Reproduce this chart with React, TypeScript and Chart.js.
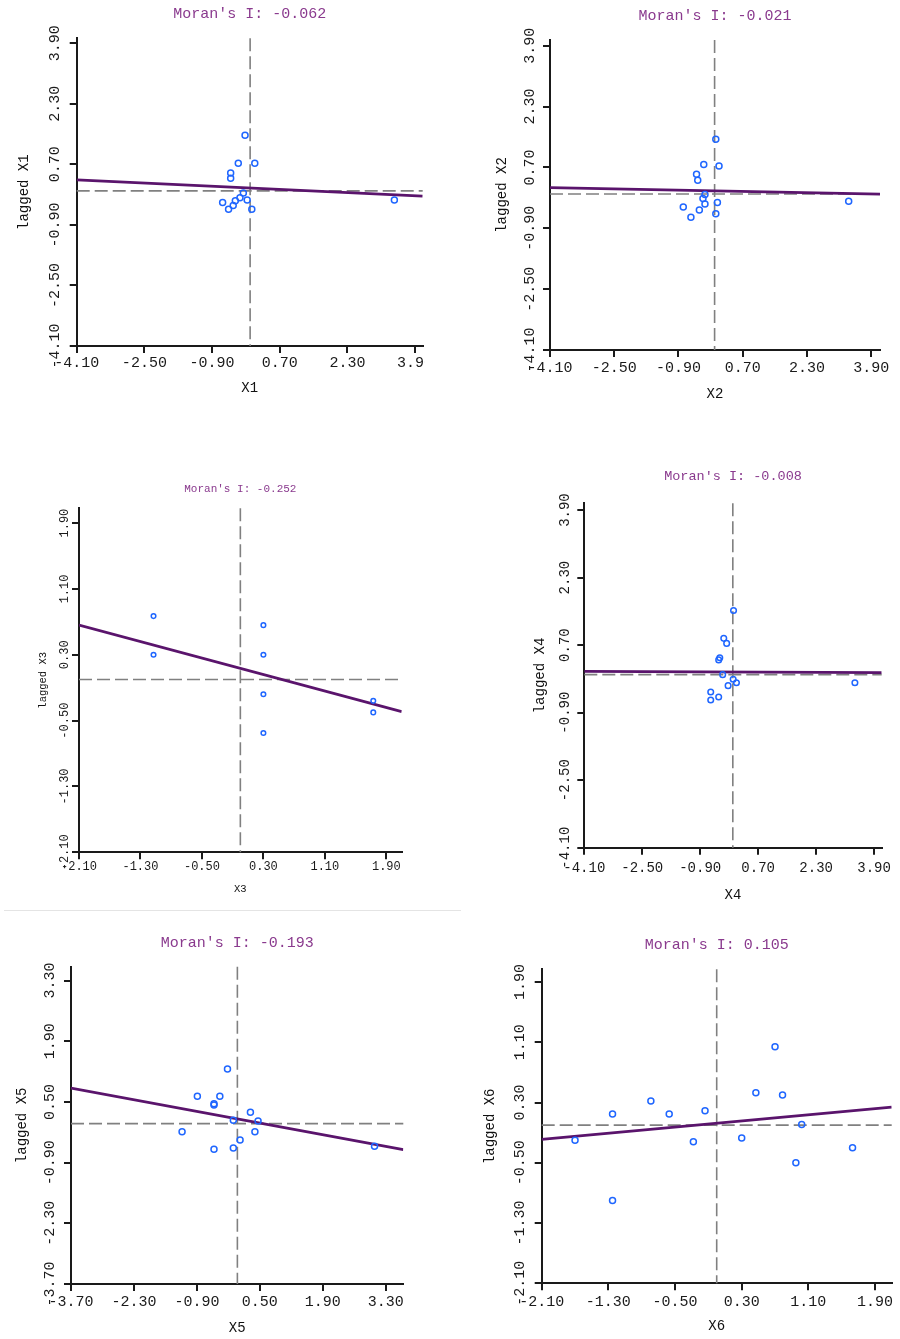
import React, { useEffect, useRef } from "react";
import { Chart, registerables } from "chart.js";

Chart.register(...registerables);

// ---------- data ----------
const moranI = [-0.062, -0.021, -0.252, -0.008, -0.193, 0.105];
const varNames = ["X1", "X2", "X3", "X4", "X5", "X6"];

const x1Values = [-0.12, -0.28, 0.11, -0.46, -0.46, -0.16, -0.24, -0.07, -0.35, -0.65, -0.4, -0.51, 0.04, 3.41];
const x1Lagged = [1.47, 0.73, 0.73, 0.47, 0.33, -0.06, -0.18, -0.24, -0.26, -0.31, -0.39, -0.49, -0.49, -0.24];
const x1FitEnds = [0.29, -0.14];
const x1XRange = [-4.1, 4.08];
const x1YRange = [-4.1, 4.03];

const x2Values = [0.03, -0.27, 0.11, -0.45, -0.42, -0.24, -0.29, 0.07, -0.24, -0.78, -0.38, -0.59, 0.03, 3.34];
const x2Lagged = [1.44, 0.78, 0.74, 0.52, 0.36, -0.01, -0.12, -0.22, -0.26, -0.34, -0.42, -0.61, -0.52, -0.19];
const x2FitEnds = [0.17, 0.0];
const x2XRange = [-4.1, 4.12];
const x2YRange = [-4.1, 4.05];

const x3Values = [-1.13, -1.13, 0.3, 0.3, 0.3, 0.3, 1.73, 1.73];
const x3Lagged = [0.77, 0.3, 0.66, 0.3, -0.18, -0.65, -0.26, -0.4];
const x3FitEnds = [0.66, -0.39];
const x3XRange = [-2.1, 2.1];
const x3YRange = [-2.1, 2.08];

const x4Values = [0.02, -0.25, -0.17, -0.36, -0.39, -0.28, 0.01, 0.1, -0.13, -0.61, -0.61, -0.39, 3.37];
const x4Lagged = [1.52, 0.86, 0.74, 0.4, 0.35, 0.0, -0.11, -0.19, -0.26, -0.41, -0.6, -0.53, -0.19];
const x4FitEnds = [0.08, 0.05];
const x4XRange = [-4.1, 4.11];
const x4YRange = [-4.1, 4.06];

const x5Values = [-0.22, -0.89, -0.39, -0.52, -0.52, 0.29, -0.09, 0.46, -1.23, 0.39, 0.06, -0.52, -0.09, 3.05];
const x5Lagged = [1.26, 0.63, 0.63, 0.46, 0.43, 0.26, 0.08, 0.06, -0.19, -0.19, -0.38, -0.59, -0.56, -0.52];
const x5FitEnds = [0.82, -0.6];
const x5XRange = [-3.7, 3.69];
const x5YRange = [-3.7, 3.62];

const x6Values = [-1.7, -1.25, -1.25, -0.79, -0.57, -0.28, -0.14, 0.3, 0.47, 0.7, 0.79, 1.02, 0.95, 1.63];
const x6Lagged = [-0.2, 0.15, -1.0, 0.32, 0.15, -0.22, 0.19, -0.17, 0.43, 1.04, 0.4, 0.01, -0.5, -0.3];
const x6FitEnds = [-0.19, 0.24];
const x6XRange = [-2.1, 2.1];
const x6YRange = [-2.1, 2.07];

const ticksWide = [-4.1, -2.5, -0.9, 0.7, 2.3, 3.9];
const ticksNarrow = [-2.1, -1.3, -0.5, 0.3, 1.1, 1.9];
const ticksX5 = [-3.7, -2.3, -0.9, 0.5, 1.9, 3.3];
const meanX = 0;
const meanLag = 0;

// ---------- layout / style (not data) ----------
type Layout = {
  box: [number, number, number, number]; // left, top, width, height of canvas in page
  area: [number, number, number, number]; // left, top, right, bottom of plot area in page
  fonts: [number, number, number]; // title, tick, axis title
  offs: [number, number, number, number, number]; // title, xTick, yTick, xTitle, yTitle
  r: number;
};

const layouts: Layout[] = [
  { box: [0, 0, 425, 420], area: [76.7, 38.3, 422.7, 346], fonts: [15, 15, 14], offs: [24, 17, 21.5, 42, 52], r: 3 },
  { box: [450, 0, 450, 420], area: [550, 40, 880, 350], fonts: [15, 15, 14], offs: [24, 18, 20, 44, 48], r: 3 },
  { box: [0, 460, 450, 445], area: [79, 508.3, 401.7, 852.3], fonts: [11, 12, 10.5], offs: [19, 15, 14, 37, 36], r: 2.3 },
  { box: [450, 455, 450, 460], area: [584.3, 503.3, 881.7, 847.7], fonts: [13.5, 14, 14], offs: [27, 20.5, 19, 48, 44], r: 2.8 },
  { box: [0, 915, 450, 424], area: [71, 966.7, 403.3, 1284], fonts: [15, 15, 14], offs: [24, 18.5, 21, 44, 49], r: 3 },
  { box: [450, 915, 450, 424], area: [541.7, 969.3, 891.7, 1283.3], fonts: [15, 15, 14], offs: [24, 18.5, 21.5, 43, 51.5], r: 3 },
];

const panelData = [
  { xs: x1Values, ys: x1Lagged, fit: x1FitEnds, xr: x1XRange, yr: x1YRange, xt: ticksWide, yt: ticksWide },
  { xs: x2Values, ys: x2Lagged, fit: x2FitEnds, xr: x2XRange, yr: x2YRange, xt: ticksWide, yt: ticksWide },
  { xs: x3Values, ys: x3Lagged, fit: x3FitEnds, xr: x3XRange, yr: x3YRange, xt: ticksNarrow, yt: ticksNarrow },
  { xs: x4Values, ys: x4Lagged, fit: x4FitEnds, xr: x4XRange, yr: x4YRange, xt: ticksWide, yt: ticksWide },
  { xs: x5Values, ys: x5Lagged, fit: x5FitEnds, xr: x5XRange, yr: x5YRange, xt: ticksX5, yt: ticksX5 },
  { xs: x6Values, ys: x6Lagged, fit: x6FitEnds, xr: x6XRange, yr: x6YRange, xt: ticksNarrow, yt: ticksNarrow },
];

const FONT = '"Liberation Mono", "DejaVu Sans Mono", monospace';
const TICK_LEN = 7;

function Panel({ idx }: { idx: number }) {
  const ref = useRef<HTMLCanvasElement | null>(null);
  const L = layouts[idx];
  const D = panelData[idx];
  const [bl, bt, bw, bh] = L.box;
  const [al, at, ar, ab] = L.area;

  useEffect(() => {
    if (!ref.current) return;
    const fmt = (v: number) => v.toFixed(2);
    const annot = {
      id: "annot" + idx,
      beforeDatasetsDraw(chart: any) {
        const { ctx, chartArea: a, scales } = chart;
        const px = scales.x.getPixelForValue(meanX);
        const py = scales.y.getPixelForValue(meanLag);
        ctx.save();
        ctx.strokeStyle = "#808080";
        ctx.lineWidth = 1.6;
        ctx.setLineDash([13, 5]);
        ctx.beginPath();
        ctx.moveTo(px, a.top);
        ctx.lineTo(px, a.bottom);
        ctx.stroke();
        ctx.beginPath();
        ctx.moveTo(a.left, py);
        ctx.lineTo(a.right, py);
        ctx.stroke();
        ctx.restore();
      },
      afterDraw(chart: any) {
        const { ctx, chartArea: a, scales } = chart;
        const [fT, fK, fA] = L.fonts;
        const [oT, oX, oY, oXT, oYT] = L.offs;
        const cx = (a.left + a.right) / 2;
        const cy = (a.top + a.bottom) / 2;
        ctx.save();
        ctx.textAlign = "center";
        ctx.textBaseline = "middle";
        // title
        ctx.fillStyle = "#8a3a8e";
        ctx.font = `${fT}px ${FONT}`;
        const mi = moranI[idx];
        ctx.fillText(`Moran's I: ${mi.toFixed(3)}`, cx, a.top - oT);
        // x ticks
        ctx.fillStyle = "#1a1a1a";
        ctx.font = `${fK}px ${FONT}`;
        scales.x.ticks.forEach((t: any) => {
          ctx.fillText(fmt(t.value), scales.x.getPixelForValue(t.value), a.bottom + oX);
        });
        // y ticks (rotated)
        scales.y.ticks.forEach((t: any) => {
          ctx.save();
          ctx.translate(a.left - oY, scales.y.getPixelForValue(t.value));
          ctx.rotate(-Math.PI / 2);
          ctx.fillText(fmt(t.value), 0, 0);
          ctx.restore();
        });
        // axis titles
        ctx.fillStyle = "#111";
        ctx.font = `${fA}px ${FONT}`;
        ctx.fillText(varNames[idx], cx, a.bottom + oXT);
        ctx.save();
        ctx.translate(a.left - oYT, cy);
        ctx.rotate(-Math.PI / 2);
        ctx.fillText("lagged " + varNames[idx], 0, 0);
        ctx.restore();
        ctx.restore();
      },
    };

    const axisCommon = {
      type: "linear" as const,
      ticks: { display: false },
      grid: {
        display: true,
        drawOnChartArea: false,
        drawTicks: true,
        tickLength: TICK_LEN,
        color: "#1a1a1a",
        lineWidth: 2,
      },
      border: { display: true, color: "#1a1a1a", width: 2 },
    };

    const chart = new Chart(ref.current, {
      type: "scatter",
      data: {
        datasets: [
          {
            type: "scatter",
            data: D.xs.map((x, i) => ({ x, y: D.ys[i] })),
            pointStyle: "circle",
            pointRadius: L.r,
            pointBorderWidth: 1.5,
            borderColor: "#1f66ff",
            backgroundColor: "rgba(0,0,0,0)",
            order: 0,
          } as any,
          {
            type: "line",
            data: [
              { x: D.xr[0], y: D.fit[0] },
              { x: D.xr[1], y: D.fit[1] },
            ],
            borderColor: "#5a146c",
            borderWidth: 2.8,
            pointRadius: 0,
            fill: false,
            order: 1,
          } as any,
        ],
      },
      options: {
        animation: false,
        responsive: false,
        events: [],
        layout: {
          autoPadding: false,
          padding: {
            left: al - bl - TICK_LEN,
            top: at - bt,
            right: bl + bw - ar,
            bottom: bt + bh - ab - TICK_LEN,
          },
        },
        plugins: { legend: { display: false }, tooltip: { enabled: false }, title: { display: false } },
        scales: {
          x: {
            ...axisCommon,
            min: D.xr[0],
            max: D.xr[1],
            afterBuildTicks: (s: any) => {
              s.ticks = D.xt.map((v) => ({ value: v }));
            },
            afterFit: (s: any) => {
              s.height = TICK_LEN;
              s.paddingLeft = 0;
              s.paddingRight = 0;
            },
          },
          y: {
            ...axisCommon,
            min: D.yr[0],
            max: D.yr[1],
            afterBuildTicks: (s: any) => {
              s.ticks = D.yt.map((v) => ({ value: v }));
            },
            afterFit: (s: any) => {
              s.width = TICK_LEN;
              s.paddingTop = 0;
              s.paddingBottom = 0;
            },
          },
        } as any,
      },
      plugins: [annot],
    });
    return () => chart.destroy();
  }, [idx]);

  return (
    <canvas
      ref={ref}
      width={bw}
      height={bh}
      style={{ position: "absolute", left: bl, top: bt, width: bw, height: bh }}
    />
  );
}

export default function App() {
  return (
    <div
      style={{
        position: "absolute",
        left: 0,
        top: 0,
        width: 900,
        height: 1339,
        background: "#fff",
        overflow: "hidden",
      }}
    >
      {layouts.map((_, i) => (
        <Panel key={i} idx={i} />
      ))}
      <div
        style={{ position: "absolute", left: 4, top: 910, width: 457, height: 1, background: "#e4e4e4" }}
      />
    </div>
  );
}
